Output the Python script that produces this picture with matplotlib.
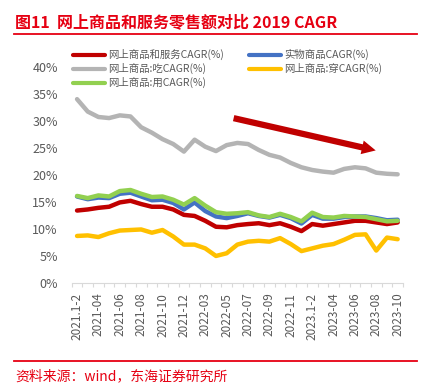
import numpy as np
import matplotlib
matplotlib.use('Agg')
import matplotlib.pyplot as plt
from matplotlib.lines import Line2D
from matplotlib.patches import FancyArrowPatch

plt.rcParams['font.family'] = ['Noto Sans CJK SC', 'DejaVu Sans']

# categories (monthly, Jan-Feb combined)
months = ['2021.1-2', '2021-03', '2021-04', '2021-05', '2021-06', '2021-07', '2021-08',
          '2021-09', '2021-10', '2021-11', '2021-12',
          '2022.1-2', '2022-03', '2022-04', '2022-05', '2022-06', '2022-07', '2022-08',
          '2022-09', '2022-10', '2022-11', '2022-12',
          '2023.1-2', '2023-03', '2023-04', '2023-05', '2023-06', '2023-07', '2023-08',
          '2023-09', '2023-10']

# CAGR vs 2019, %
online_total = [13.4, 13.6, 13.9, 14.1, 14.9, 15.2, 14.6, 14.1, 14.1, 13.6, 12.6,
                12.4, 11.5, 10.4, 10.3, 10.7, 10.9, 11.05, 10.7, 11.05, 10.4, 9.6,
                10.9, 10.6, 10.9, 11.2, 11.5, 11.5, 11.2, 10.9, 11.2]
physical = [16.0, 15.5, 15.8, 15.7, 16.5, 16.7, 16.0, 15.3, 15.4, 14.8, 13.6,
            14.9, 13.3, 12.3, 12.0, 12.4, 12.9, 12.4, 12.1, 12.6, 12.0, 11.0,
            12.6, 11.9, 11.9, 12.2, 12.3, 12.3, 12.0, 11.6, 11.7]
food = [34.0, 31.7, 30.7, 30.5, 31.0, 30.8, 28.8, 27.8, 26.6, 25.7, 24.3,
        26.5, 25.2, 24.4, 25.5, 25.9, 25.7, 24.6, 23.7, 23.2, 22.2, 21.4,
        20.9, 20.6, 20.4, 21.1, 21.4, 21.2, 20.4, 20.2, 20.1]
clothing = [8.7, 8.8, 8.5, 9.2, 9.7, 9.8, 9.9, 9.3, 9.8, 8.6, 7.1,
            7.1, 6.4, 5.0, 5.5, 7.1, 7.65, 7.8, 7.65, 8.3, 7.2, 5.9,
            6.4, 6.9, 7.2, 8.0, 8.9, 9.0, 6.0, 8.4, 8.1]
daily_use = [16.1, 15.7, 16.2, 16.0, 17.0, 17.2, 16.5, 15.9, 16.0, 15.4, 14.5,
             15.7, 14.3, 13.1, 12.8, 12.9, 13.1, 12.5, 12.2, 12.8, 12.2, 11.4,
             13.0, 12.2, 12.1, 12.4, 12.3, 12.2, 11.8, 11.4, 11.5]

series = [
    ('网上商品和服务CAGR(%)', online_total, '#c00000'),
    ('实物商品CAGR(%)', physical, '#4472c4'),
    ('网上商品:吃CAGR(%)', food, '#b4b4b4'),
    ('网上商品:穿CAGR(%)', clothing, '#ffc000'),
    ('网上商品:用CAGR(%)', daily_use, '#92d050'),
]

W, H = 423, 389
fig = plt.figure(figsize=(W / 100, H / 100), dpi=100)
ax = fig.add_axes([71.7 / W, 1 - 283 / H, (403 - 71.7) / W, (283 - 66.7) / H])

x = np.arange(len(months))
for i, (name, vals, col) in enumerate(series):
    ax.plot(x, vals, color=col, lw=3.2, solid_joinstyle='round',
            solid_capstyle='round', zorder=2 + i)

ax.set_xlim(-0.5, len(months) - 0.5)
ax.set_ylim(0, 40)
ax.set_yticks(range(0, 41, 5))
ax.set_yticklabels([f'{v}%' for v in range(0, 41, 5)])
ax.tick_params(axis='y', length=0, pad=10, labelsize=9, labelcolor='#595959')

ax.set_xticks(np.arange(-0.5, len(months), 1))
ax.set_xticklabels([])
ax.tick_params(axis='x', which='major', length=3, color='#d9d9d9', width=0.8)
ax.set_xticks(x[::2], [months[i] for i in x[::2]], minor=True)
ax.tick_params(axis='x', which='minor', length=0, pad=7, labelsize=8.5,
               labelcolor='#595959', labelrotation=90)

for s in ['top', 'right', 'left']:
    ax.spines[s].set_visible(False)
ax.spines['bottom'].set_color('#d9d9d9')
ax.spines['bottom'].set_linewidth(0.8)

# downward trend arrow
arrow = FancyArrowPatch((14.4, 30.6), (28.2, 24.4),
                        arrowstyle='simple,head_length=1.0,head_width=1.0,tail_width=0.45',
                        mutation_scale=10, color='#c00000', lw=0, zorder=10)
ax.add_patch(arrow)

# legend drawn by hand (row-major like Excel)
leg_pos = [(72.7, 54.5), (249, 54.5), (72.7, 68.5), (249, 68.5), (72.7, 82.5)]
for (name, vals, col), (lx, ly) in zip(series, leg_pos):
    fig.add_artist(Line2D([lx / W, (lx + 32) / W], [1 - ly / H] * 2,
                          color=col, lw=3, solid_capstyle='round'))
    fig.text((lx + 35) / W, 1 - ly / H, name, fontsize=7.5, color='#595959',
             va='center', ha='left')

red = '#e60012'
fig.text(15 / W, 1 - 22.5 / H, '图11  网上商品和服务零售额对比 2019 CAGR',
         fontsize=11.5, fontweight='bold', color=red, va='center', ha='left')
fig.add_artist(Line2D([14 / W, 417 / W], [1 - 33.7 / H] * 2, color=red, lw=1.3))
fig.add_artist(Line2D([14 / W, 417 / W], [1 - 361 / H] * 2, color=red, lw=1.3))
fig.text(15 / W, 1 - 376.5 / H, '资料来源：wind，东海证券研究所',
         fontsize=10, color=red, va='center', ha='left')

fig.savefig('out.png', dpi=100)
